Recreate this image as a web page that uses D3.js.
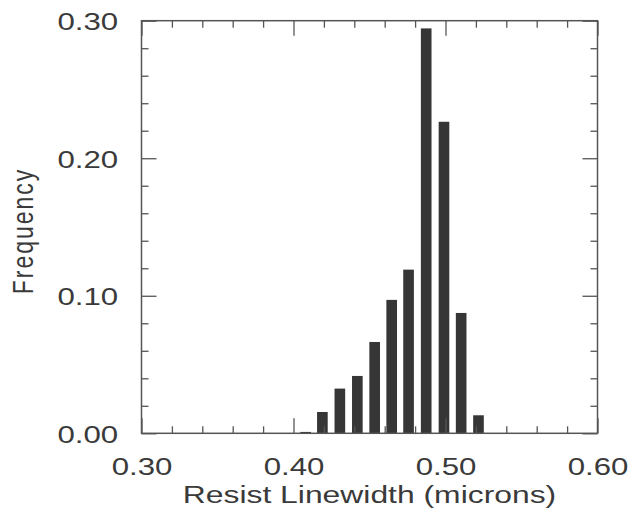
<!DOCTYPE html>
<html><head><meta charset="utf-8">
<script src="https://cdn.jsdelivr.net/npm/d3@7"></script>
<style>
body{margin:0;background:#fff;}
svg{display:block;font-family:"Liberation Sans",Arial,Helvetica,sans-serif;}
</style></head><body>
<svg id="c" width="629" height="514"></svg>
<script>
const binCenters = [0.408, 0.419, 0.4305, 0.442, 0.4534, 0.4646, 0.4757, 0.4873, 0.499, 0.5103, 0.5217];
const frequencies = [0.001, 0.0155, 0.0325, 0.0417, 0.0664, 0.097, 0.119, 0.2944, 0.2265, 0.0875, 0.0131];
const xTickValues = [0.30, 0.40, 0.50, 0.60];
const yTickValues = [0.00, 0.10, 0.20, 0.30];
const xLabel = "Resist Linewidth (microns)";
const yLabel = "Frequency";

const W = 629, H = 514;
const m = {left: 141.5, right: 31.5, top: 20.7, bottom: 80.7};
const stretch = 1.3;
const svg = d3.select("#c");
const x = d3.scaleLinear().domain([0.30, 0.60]).range([m.left, W - m.right]);
const y = d3.scaleLinear().domain([0, 0.30]).range([H - m.bottom, m.top]);
const barW = x(0.307) - x(0.30);
const axisColor = "#555", textColor = "#3a3a3a";

// bars
svg.append("g").selectAll("rect").data(binCenters).join("rect")
  .attr("x", (d) => x(d) - barW / 2)
  .attr("y", (d, i) => y(frequencies[i]))
  .attr("width", barW)
  .attr("height", (d, i) => y(0) - y(frequencies[i]))
  .attr("fill", "#363636");

const xMinor = d3.range(0, 16).map(i => 0.30 + i * 0.02).filter(v => Math.abs((v * 10) - Math.round(v * 10)) > 1e-6);
const yMinor = d3.range(0, 16).map(i => i * 0.02).filter(v => Math.abs((v * 10) - Math.round(v * 10)) > 1e-6);

function styleAxis(g) {
  g.select(".domain").remove();
  g.selectAll("line").attr("stroke", axisColor).attr("stroke-width", 1.3);
}
function styleText(g) {
  g.selectAll("text").attr("font-size", 24).attr("fill", textColor)
    .attr("font-family", "Liberation Sans, Arial, sans-serif")
    .attr("transform", `scale(${stretch},1)`);
}
const fmt = d3.format(".2f");

// bottom
svg.append("g").attr("transform", `translate(0,${y(0)})`)
  .call(d3.axisBottom(x).tickValues(xTickValues).tickSize(-15).tickPadding(25).tickFormat(fmt))
  .call(styleAxis).call(styleText);
svg.append("g").attr("transform", `translate(0,${y(0)})`)
  .call(d3.axisBottom(x).tickValues(xMinor).tickSize(-7).tickFormat(""))
  .call(styleAxis);
// top
svg.append("g").attr("transform", `translate(0,${y(0.30)})`)
  .call(d3.axisTop(x).tickValues(xTickValues).tickSize(-15).tickFormat(""))
  .call(styleAxis);
svg.append("g").attr("transform", `translate(0,${y(0.30)})`)
  .call(d3.axisTop(x).tickValues(xMinor).tickSize(-7).tickFormat(""))
  .call(styleAxis);
// left
svg.append("g").attr("transform", `translate(${x(0.30)},0)`)
  .call(d3.axisLeft(y).tickValues(yTickValues).tickSize(-15).tickPadding(18).tickFormat(fmt))
  .call(styleAxis).call(styleText)
  .call(g => g.selectAll("text").attr("dy", "0.38em"));
svg.append("g").attr("transform", `translate(${x(0.30)},0)`)
  .call(d3.axisLeft(y).tickValues(yMinor).tickSize(-7).tickFormat(""))
  .call(styleAxis);
// right
svg.append("g").attr("transform", `translate(${x(0.60)},0)`)
  .call(d3.axisRight(y).tickValues(yTickValues).tickSize(-15).tickFormat(""))
  .call(styleAxis);
svg.append("g").attr("transform", `translate(${x(0.60)},0)`)
  .call(d3.axisRight(y).tickValues(yMinor).tickSize(-7).tickFormat(""))
  .call(styleAxis);

// frame
svg.append("rect")
  .attr("x", x(0.30)).attr("y", y(0.30))
  .attr("width", x(0.60) - x(0.30)).attr("height", y(0) - y(0.30))
  .attr("fill", "none").attr("stroke", axisColor).attr("stroke-width", 1.5);

// axis titles
svg.append("text")
  .attr("transform", `translate(${(x(0.30) + x(0.60)) / 2},503) scale(${stretch},1)`)
  .attr("text-anchor", "middle").attr("font-size", 24.5)
  .attr("fill", textColor).text(xLabel);
svg.append("text")
  .attr("transform", `translate(33,231) rotate(-90) scale(1,${stretch})`)
  .attr("text-anchor", "middle").attr("font-size", 23).attr("letter-spacing", 2)
  .attr("fill", textColor).text(yLabel);
</script>
</body></html>
